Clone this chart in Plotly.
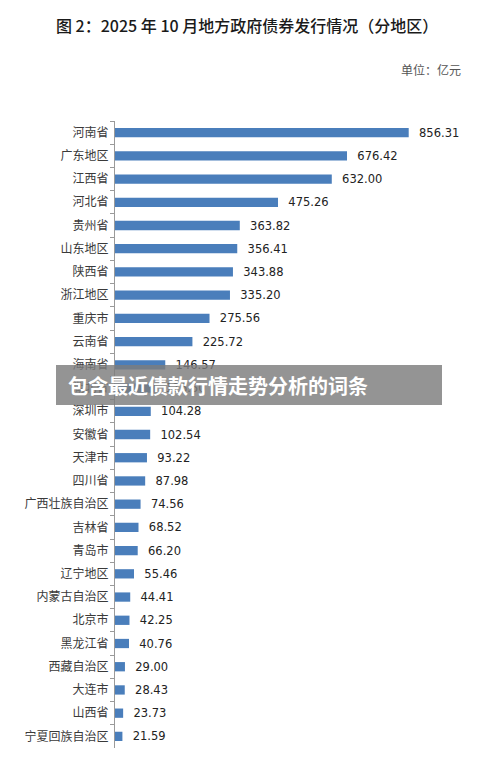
import plotly.graph_objects as go

regions = ["河南省", "广东地区", "江西省", "河北省", "贵州省", "山东地区", "陕西省", "浙江地区",
           "重庆市", "云南省", "海南省", "湖北省", "深圳市", "安徽省", "天津市", "四川省",
           "广西壮族自治区", "吉林省", "青岛市", "辽宁地区", "内蒙古自治区", "北京市", "黑龙江省",
           "西藏自治区", "大连市", "山西省", "宁夏回族自治区"]
values = [856.31, 676.42, 632.00, 475.26, 363.82, 356.41, 343.88, 335.20,
          275.56, 225.72, 146.57, 116.50, 104.28, 102.54, 93.22, 87.98,
          74.56, 68.52, 66.20, 55.46, 44.41, 42.25, 40.76,
          29.00, 28.43, 23.73, 21.59]

title_text = "图 2：2025 年 10 月地方政府债券发行情况（分地区）"
unit_text = "单位：亿元"
banner_text = "包含最近债款行情走势分析的词条"

W, H = 500, 771
L, R, T, B = 115, 42, 121, 23
pw, ph = W - L - R, H - T - B

def px(x):
    return (x - L) / pw

def py(y):
    return (H - B - y) / ph

fig = go.Figure()
fig.add_trace(go.Bar(
    x=values, y=regions, orientation="h",
    marker=dict(color="#4a7ebb", line=dict(width=0)),
    text=["  %.2f" % v for v in values],
    textposition="outside",
    constraintext="none",
    textfont=dict(family="DejaVu Sans", size=11.5, color="#222222"),
    cliponaxis=False,
    width=0.4,
))

fig.update_layout(
    width=W, height=H,
    margin=dict(l=L, r=R, t=T, b=B),
    paper_bgcolor="white", plot_bgcolor="white",
    showlegend=False,
    xaxis=dict(range=[0, 1000], visible=False, showgrid=False, zeroline=False),
    yaxis=dict(
        autorange="reversed", type="category",
        showline=True, linecolor="#9a9a9a", linewidth=1,
        ticks="outside", tickson="boundaries", ticklen=4, tickcolor="#9a9a9a",
        ticklabelstandoff=3,
        tickfont=dict(family="Noto Sans CJK SC", size=12, color="#3a3a3a"),
        showgrid=False, zeroline=False,
    ),
    font=dict(family="Noto Sans CJK SC"),
)

fig.add_annotation(
    x=px(247), y=py(25), xref="paper", yref="paper",
    text=title_text, showarrow=False,
    font=dict(family="Noto Sans CJK SC", size=16, color="#1a1a1a", weight=500),
    xanchor="center", yanchor="middle",
)
fig.add_annotation(
    x=px(463), y=py(70), xref="paper", yref="paper",
    text=unit_text, showarrow=False,
    font=dict(family="Noto Sans CJK SC", size=12, color="#555555"),
    xanchor="right", yanchor="middle",
)

fig.add_shape(
    type="rect", xref="paper", yref="paper",
    x0=px(56), x1=px(442), y0=py(405), y1=py(365),
    fillcolor="rgba(125,125,125,0.82)", line=dict(width=0), layer="above",
)
fig.add_annotation(
    x=px(66), y=py(385), xref="paper", yref="paper",
    text="<b>" + banner_text + "</b>", showarrow=False,
    font=dict(family="Noto Sans CJK SC", size=20, color="white"),
    xanchor="left", yanchor="middle",
)

fig.write_html("out.html")
